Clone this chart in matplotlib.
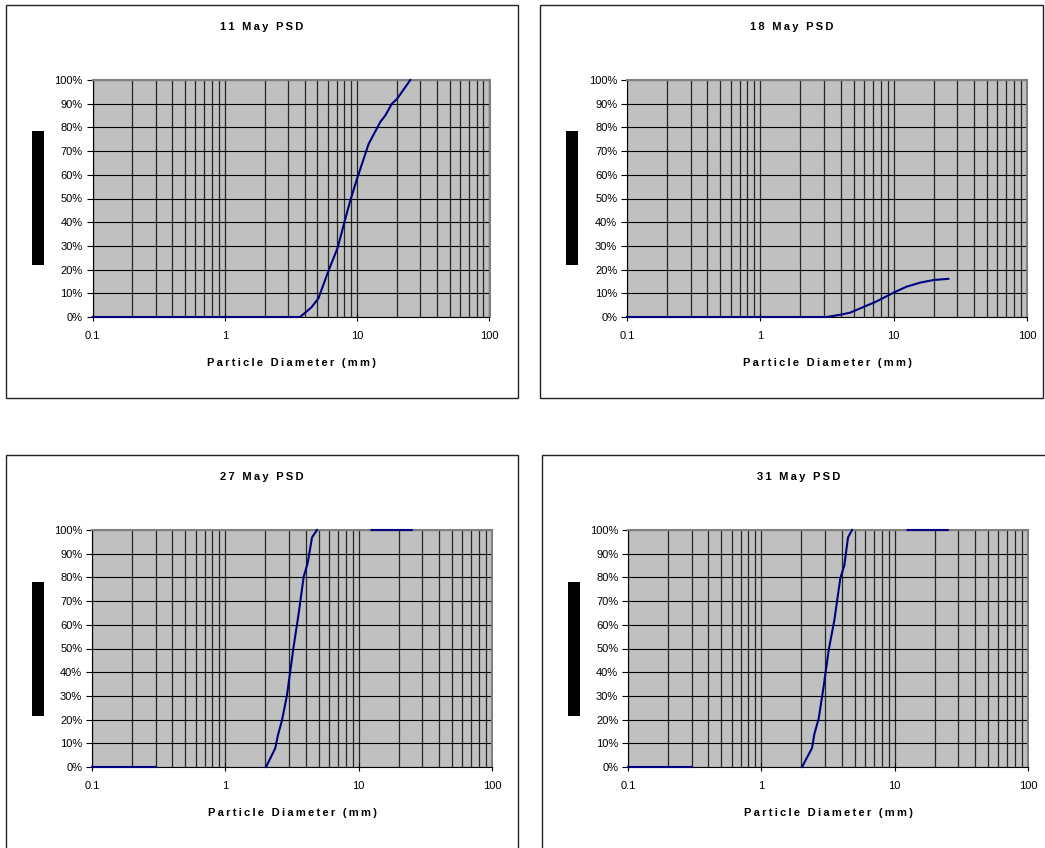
import numpy as np
import matplotlib
matplotlib.use("Agg")
import matplotlib.pyplot as plt
from matplotlib.patches import Rectangle
from matplotlib.ticker import FixedLocator, NullLocator, PercentFormatter

plt.rcParams['font.family'] = ['Liberation Sans', 'DejaVu Sans']

nan = np.nan

# cumulative % passing vs particle diameter (mm)
may11_size = [0.1, 0.2, 0.5, 1, 2, 3.7, 4.5, 5.1, 5.3, 6.1, 7.1, 8.1, 8.9, 10, 12.2, 15, 16.3, 18.3, 20, 25.2]
may11_pct = [0, 0, 0, 0, 0, 0, 4, 7.9, 10.5, 19.8, 29, 41, 49.4, 58.5, 73, 82.4, 85, 90, 92, 100]

may18_size = [0.1, 0.2, 0.5, 1, 2, 3.15, 4.0, 4.7, 7.4, 10, 12.5, 15.8, 19.9, 25.7]
may18_pct = [0, 0, 0, 0, 0, 0, 1.0, 1.8, 6.5, 10.3, 12.8, 14.5, 15.6, 16.1]

may27_size = [0.1, 0.2, 0.3, nan, 2.02, 2.37, 2.48, 2.66, 2.9, 3.25, 3.55, 3.87, 4.14, 4.47, 4.87, nan, 12.5, 25]
may27_pct = [0, 0, 0, nan, 0, 8, 13.4, 19.7, 30.3, 50.7, 64.8, 80.3, 85.9, 96.9, 100, nan, 100, 100]

may31_size = [0.1, 0.2, 0.3, nan, 2.02, 2.4, 2.5, 2.69, 2.93, 3.2, 3.53, 3.91, 4.19, 4.47, 4.79, nan, 12.5, 25]
may31_pct = [0, 0, 0, nan, 0, 8, 14, 20.3, 33.8, 49.3, 62, 79.6, 85, 96.9, 100, nan, 100, 100]

titles = ["11 May PSD", "18 May PSD", "27 May PSD", "31 May PSD"]
sizes = [may11_size, may18_size, may27_size, may31_size]
pcts = [may11_pct, may18_pct, may27_pct, may31_pct]
xlabel = "Particle Diameter (mm)"

W, H = 1045, 848
fig = plt.figure(figsize=(W / 100, H / 100), dpi=100)

# layout in pixels: frame (l, t, r, b), axes (l, t, r, b), black label box (l, t, r, b)
frames = [(6, 5, 518, 398), (540, 5, 1043, 398), (6, 455, 518, 860), (542, 455, 1055, 860)]
axboxes = [(92.5, 80, 489.5, 317), (627, 80, 1027, 317), (92, 530, 492, 767), (628, 530, 1028, 767)]
labboxes = [(32, 131, 44, 265), (566, 131, 578, 265), (32, 582, 44, 716), (568, 582, 580, 716)]


def spaced(s):
    return "\u2009".join(s)


for i in range(4):
    fl, ft, fr, fb = frames[i]
    fig.add_artist(Rectangle((fl / W, 1 - fb / H), (fr - fl) / W, (fb - ft) / H,
                             transform=fig.transFigure, fill=False, ec="#222222", lw=1.0))
    bl, bt, br, bb = labboxes[i]
    fig.add_artist(Rectangle((bl / W, 1 - bb / H), (br - bl) / W, (bb - bt) / H,
                             transform=fig.transFigure, fc="black", ec="none"))

    l, t, r, b = axboxes[i]
    ax = fig.add_axes([l / W, 1 - b / H, (r - l) / W, (b - t) / H])
    ax.set_facecolor("#C0C0C0")
    ax.plot(sizes[i], pcts[i], color="#000080", lw=1.5, zorder=3, clip_on=False)
    ax.set_xscale("log")
    ax.set_xlim(0.1, 100)
    ax.set_ylim(0, 100)

    ax.xaxis.set_major_locator(FixedLocator([0.1, 1, 10, 100]))
    ax.set_xticklabels(["0.1", "1", "10", "100"])
    ax.xaxis.set_minor_locator(FixedLocator([m * d for d in [0.1, 1, 10] for m in range(2, 10)]))
    ax.set_yticks(np.arange(0, 101, 10))
    ax.yaxis.set_major_formatter(PercentFormatter(xmax=100, decimals=0))
    ax.yaxis.set_minor_locator(NullLocator())

    ax.grid(True, which="both", axis="x", color="#262626", lw=0.9)
    ax.grid(True, which="major", axis="y", color="black", lw=0.8)
    ax.set_axisbelow(True)

    ax.tick_params(axis="x", which="major", direction="inout", length=6, width=0.8,
                   labelsize=8, pad=7)
    ax.tick_params(axis="x", which="minor", length=0)
    ax.tick_params(axis="y", direction="out", length=4, width=0.8, labelsize=8, pad=3)

    for side in ["left", "bottom"]:
        ax.spines[side].set_color("black")
        ax.spines[side].set_linewidth(0.8)
    for side in ["top", "right"]:
        ax.spines[side].set_color("#808080")
        ax.spines[side].set_linewidth(1.5)

    fig.text((fl + fr) / 2 / W, 1 - (ft + 22) / H, spaced(titles[i]), ha="center", va="center",
             fontsize=8, fontweight="bold")
    fig.text((l + r) / 2 / W, 1 - (b + 46) / H, spaced(xlabel), ha="center", va="center",
             fontsize=8, fontweight="bold")

fig.savefig("out.png", dpi=100)
